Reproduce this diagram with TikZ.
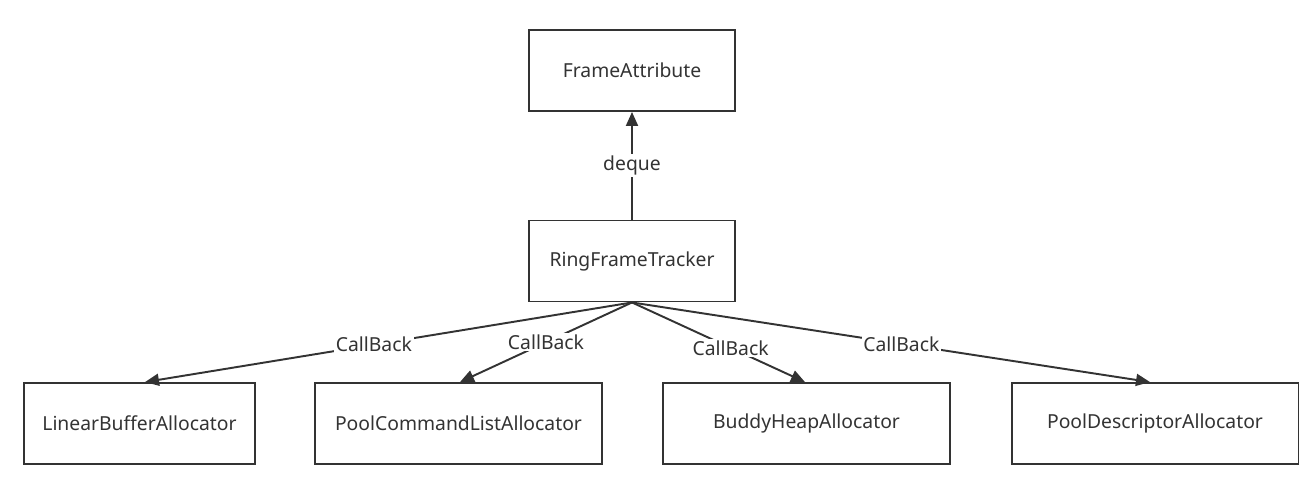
\documentclass[tikz,border=0pt]{standalone}
\usepackage{fontspec}
\setmainfont{Noto Sans}
\usepackage{tikz}
\usetikzlibrary{arrows.meta}
\definecolor{linegray}{HTML}{333333}
\tikzstyle{block} = [rectangle, draw=linegray, line width=1.1pt, minimum height=1.62cm, text=linegray, font=\fontsize{11}{13}\selectfont]
\tikzstyle{arrow} = [line width=1.1pt, draw=linegray, -{Triangle[length=0.28cm,width=0.24cm]}]
\tikzstyle{lbl} = [fill=white, inner sep=1pt, text=linegray, font=\fontsize{11}{13}\selectfont]

\begin{document}
\begin{tikzpicture}[x=0.02cm, y=-0.02cm]
            \useasboundingbox (0,0) rectangle (1312,477);

            \node (frame_attr) [block, minimum width=4.12cm] at (632,70.5) {FrameAttribute};
            \node (ring_tracker) [block, minimum width=4.12cm] at (632,261) {RingFrameTracker};

            \node (linear_alloc) [block, minimum width=4.62cm] at (139.5,423.5) {LinearBufferAllocator};
            \node (cmdlist_alloc) [block, minimum width=5.74cm] at (458.5,423.5) {PoolCommandListAllocator};
            \node (buddy_alloc) [block, minimum width=5.74cm] at (806.5,423.5) {BuddyHeapAllocator};
            \node (desc_alloc) [block, minimum width=5.74cm] at (1155,423.5) {PoolDescriptorAllocator};

            \draw [arrow] (ring_tracker) -- node[lbl] {deque} (frame_attr);

            \draw [arrow] (ring_tracker.south) -- node[lbl, pos=0.53] {CallBack} ([xshift=0.11cm]linear_alloc.north);
            \draw [arrow] (ring_tracker.south) -- node[lbl, pos=0.5] {CallBack} ([xshift=0.03cm]cmdlist_alloc.north);
            \draw [arrow] (ring_tracker.south) -- node[lbl, pos=0.57] {CallBack} ([xshift=-0.03cm]buddy_alloc.north);
            \draw [arrow] (ring_tracker.south) -- node[lbl, pos=0.52] {CallBack} ([xshift=-0.1cm]desc_alloc.north);

        \end{tikzpicture}
\end{document}
